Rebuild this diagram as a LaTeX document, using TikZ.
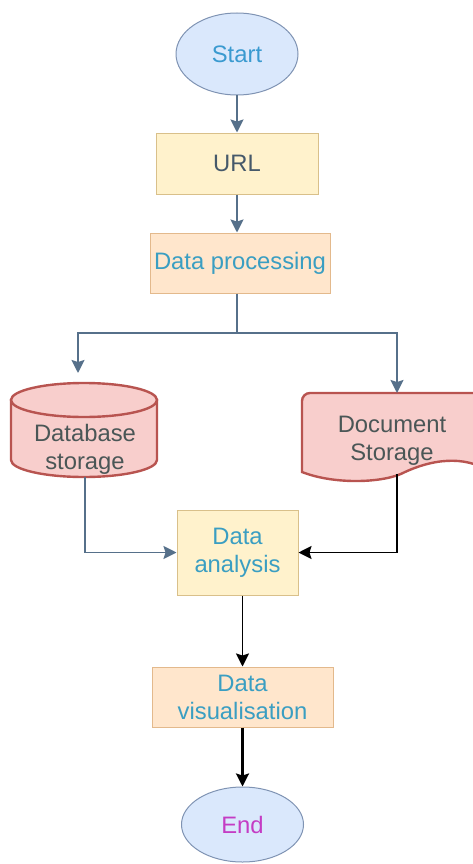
\documentclass[tikz,border=0pt]{standalone}
\usepackage{fontspec}
\setmainfont{Liberation Sans}
\usetikzlibrary{shapes.geometric,arrows.meta,calc}
\definecolor{ellfill}{HTML}{DAE8FC}
\definecolor{elldraw}{HTML}{7F93B3}
\definecolor{boxfill}{HTML}{FFF2CC}
\definecolor{boxdraw}{HTML}{D9C08A}
\definecolor{peachfill}{HTML}{FFE6CC}
\definecolor{peachdraw}{HTML}{E3B98C}
\definecolor{redfill}{HTML}{F8CECC}
\definecolor{reddraw}{HTML}{B85450}
\definecolor{arrgray}{HTML}{56708A}
\definecolor{txtblue}{HTML}{3A9AD0}
\definecolor{txtteal}{HTML}{3A9EC2}
\definecolor{txtdark}{HTML}{46596A}
\definecolor{txtgray}{HTML}{4A5656}
\definecolor{txtmag}{HTML}{C43CC4}
\tikzset{
  lbl/.style={font=\fontsize{23.8}{28}\selectfont, align=center, inner sep=0pt},
  term/.style={ellipse, draw=elldraw, fill=ellfill, line width=1pt, lbl},
  ybox/.style={rectangle, draw=boxdraw, fill=boxfill, line width=1pt, lbl},
  pbox/.style={rectangle, draw=peachdraw, fill=peachfill, line width=1pt, lbl},
  garr/.style={draw=arrgray, line width=1.8pt, -{Stealth[length=13pt,width=13pt,inset=2pt]}},
  garrl/.style={draw=arrgray, line width=1.5pt},
  barr/.style={draw=black, line width=1.8pt, -{Stealth[length=13pt,width=13pt,inset=2pt]}},
  redshape/.style={draw=reddraw, fill=redfill, line width=2.4pt},
}
\begin{document}
\begin{tikzpicture}[x=1pt,y=-1pt]
\useasboundingbox (0,0) rectangle (472,864);
% terminals and boxes
\node[term, minimum width=122pt, minimum height=82pt, text=txtblue] (start) at (237,54) {Start};
\node[ybox, minimum width=162pt, minimum height=61pt, text=txtdark] (url) at (237,163.5) {URL};
\node[pbox, minimum width=180pt, minimum height=60pt, text=txtteal] (dp) at (240,263) {Data processing};
% database cylinder
\filldraw[redshape] (11,400) -- (11,460) arc[start angle=180, end angle=0, x radius=73, y radius=17] -- (157,400) -- cycle;
\filldraw[redshape] (84,400) ellipse[x radius=73, y radius=17];
\node[lbl, text=txtgray] (db) at (85,449) {Database\\storage};
% document shape
\filldraw[redshape, rounded corners=8pt] (302,472) -- (302,393) -- (490,393) [sharp corners] -- (490,472)
  .. controls (470,458) and (440,456) .. (405,472)
  .. controls (385,483) and (335,485) .. (302,472) -- cycle;
\node[lbl, text=txtgray] (doc) at (392,441) {Document\\Storage};
\node[ybox, minimum width=121pt, minimum height=85pt, text=txtteal] (da) at (237.5,552.5) {Data\\analysis};
\node[pbox, minimum width=181pt, minimum height=60pt, text=txtteal] (dv) at (242.5,697) {Data\\visualisation};
\node[term, minimum width=122pt, minimum height=75pt, text=txtmag] (end) at (242.5,824.5) {End};
% connector coordinates
\coordinate (split) at (237,333);
\coordinate (dbin) at (78,373);
\coordinate (docin) at (397,393);
\coordinate (dbout) at (85,477);
\coordinate (docout) at (397,474);
% connectors
\draw[garr] (start.south) -- (url.north);
\draw[garr] (url.south) -- (url.south |- dp.north);
\draw[garrl] (url.south |- dp.south) -- (split);
\draw[garr] (split) -| (dbin);
\draw[garr] (split) -| (docin);
\draw[garr] (dbout) |- (da.west);
\draw[barr] (docout) |- (da.east);
\draw[barr] (dv.north |- da.south) -- (dv.north);
\draw[barr, line width=2.4pt] (dv.south) -- (end.north);
\end{tikzpicture}
\end{document}
